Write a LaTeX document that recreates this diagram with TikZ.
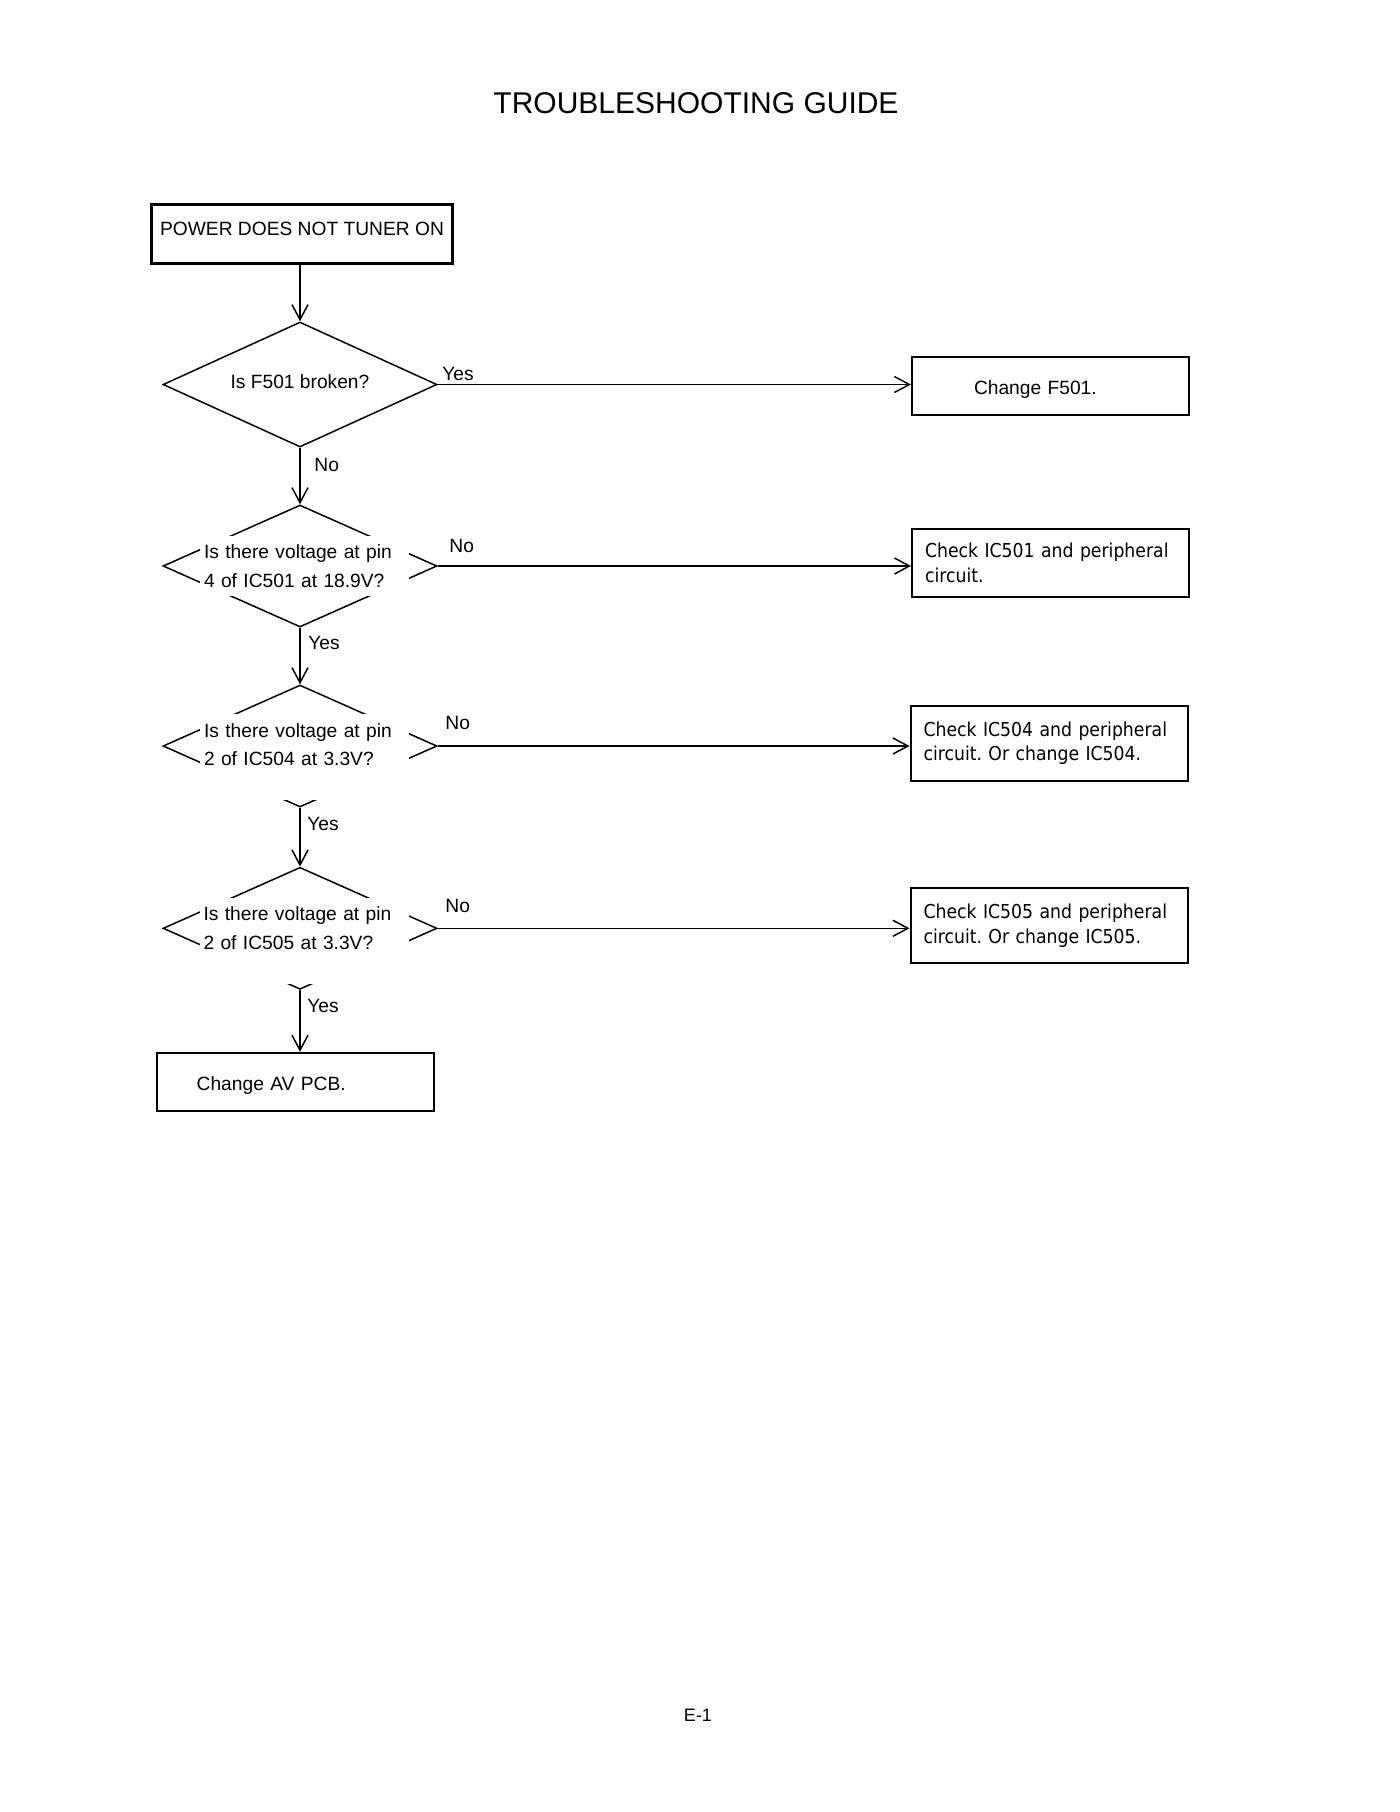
\documentclass[tikz,border=0pt]{standalone}
\usepackage{fontspec}
\setmainfont{Liberation Sans}
\newfontfamily\boxfont[FakeStretch=0.9]{DejaVu Sans}
\usetikzlibrary{shapes.geometric,arrows.meta}
\frenchspacing

\tikzset{
    txt/.style = {font=\fontsize{9.6}{14.3}\selectfont},
    startbox/.style = {txt, draw, line width=1.5pt, minimum width=150.5pt, minimum height=29.5pt, inner sep=0pt, text depth=4.6pt},
    dia/.style = {draw, diamond, aspect=2.23, line width=0.75pt, minimum width=137pt, minimum height=61pt, inner sep=0pt},
    qtext/.style = {txt, fill=white, align=left, text width=100.5pt, inner xsep=2pt, inner ysep=4.4pt},
    endbox/.style = {txt, draw, line width=1pt, minimum height=29.2pt, align=left, text height=10.5pt},
    checkbox/.style = {draw, line width=1pt, font=\boxfont\fontsize{9.6}{12.2}\selectfont, text width=125.5pt, inner xsep=6.5pt, align=left},
    lbl/.style = {txt, anchor=base west, inner sep=0pt},
    arr/.style = {line width=0.75pt, -{Straight Barb[length=7.5pt, width=8pt]}}
}

\begin{document}
\begin{tikzpicture}[x=0.5pt, y=-0.5pt]
    \useasboundingbox (0, 0) rectangle (1400, 1812);
    \node[font=\fontsize{15}{18}\selectfont] (title) at (696, 103) {TROUBLESHOOTING GUIDE};

    % left column
    \node[startbox] (start) at (302, 233.5) {POWER DOES NOT TUNER ON};
    \node[dia, txt, minimum height=62.5pt, text depth=2.5pt] (d1) at (300, 384.5) {Is F501 broken?};
    \node[dia] (d2) at (300, 566) {};
    \node[dia] (d3) at (300, 746) {};
    \node[dia] (d4) at (300, 928.3) {};
    \node[qtext] (q2) at (304.5, 566) {Is there voltage at pin\\4 of IC501 at 18.9V?};
    \node[qtext, anchor=north, text depth=27.2pt] (q3) at (304.5, 714) {Is there voltage at pin\\2 of IC504 at 3.3V?};
    \node[qtext, anchor=north, text depth=27.2pt] (q4) at (304, 897.3) {Is there voltage at pin\\2 of IC505 at 3.3V?};
    \node[endbox, text width=98.8pt, inner xsep=20pt] (avpcb) at (295.5, 1082) {Change AV PCB.};

    % right column
    \node[endbox, text width=76.5pt, inner xsep=31pt] (f501) at (1050.5, 385.8) {Change F501.};
    \node[checkbox, minimum height=33.8pt] (c501) at (1050.5, 562.8) {Check IC501 and peripheral\\circuit.};
    \node[checkbox, minimum height=37.5pt] (c504) at (1049, 743.2) {Check IC504 and peripheral\\circuit. Or change IC504.};
    \node[checkbox, minimum height=37.5pt] (c505) at (1049, 925.8) {Check IC505 and peripheral\\circuit. Or change IC505.};

    % arrows
    \draw[arr] (d1.north |- start.south) -- (d1.north);
    \draw[arr] (d1.east) -- (d1.east -| f501.west);
    \draw[arr] (d2.east) -- (d2.east -| c501.west);
    \draw[arr] (d3.east) -- (d3.east -| c504.west);
    \draw[arr] (d4.east) -- (d4.east -| c505.west);
    \foreach \a/\b in {d1/d2, d2/d3, d3/d4} \draw[arr] (\a.south) -- (\b.north);
    \draw[arr] (d4.south) -- (d4.south |- avpcb.north);

    % labels
    \node[lbl] (yes1) at (442, 380) {Yes};
    \node[lbl] (no1) at (314, 471) {No};
    \node[lbl] (no2) at (449, 552.7) {No};
    \node[lbl] (yes2) at (308, 649) {Yes};
    \node[lbl] (no3) at (445, 729.3) {No};
    \node[lbl] (yes3) at (307, 830.7) {Yes};
    \node[lbl] (no4) at (445, 912.7) {No};
    \node[lbl] (yes4) at (307, 1012.7) {Yes};

    \node[font=\fontsize{9}{11}\selectfont] (page) at (698, 1715) {E-1};
\end{tikzpicture}
\end{document}
